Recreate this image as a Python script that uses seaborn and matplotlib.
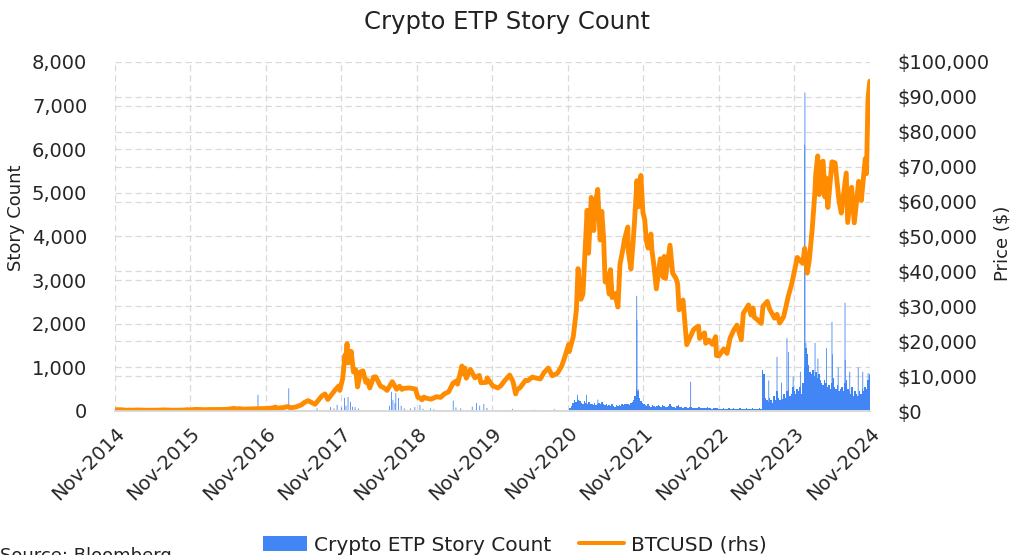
import pandas as pd
import numpy as np
import seaborn as sns
import matplotlib
matplotlib.use("Agg")
import matplotlib.pyplot as plt
import matplotlib.dates as mdates
from matplotlib.patches import Patch
from matplotlib.lines import Line2D
from matplotlib.ticker import FuncFormatter

BLUE = "#4285f4"
ORANGE = "#ff8c00"
GRID = "#d9d9d9"

# BTCUSD turning points per year, (month-day, price)
btc_2014 = [("11-20", 360), ("11-30", 378), ("12-15", 345), ("12-31", 320)]
btc_2015 = [("01-14", 178), ("01-25", 255), ("02-08", 222), ("02-20", 245), ("03-10", 290),
            ("03-31", 245), ("04-14", 220), ("05-15", 237), ("06-15", 235), ("07-12", 310),
            ("07-31", 285), ("08-24", 210), ("09-15", 230), ("10-04", 238), ("10-31", 315),
            ("11-04", 410), ("11-11", 310), ("11-30", 375), ("12-15", 460), ("12-31", 430)]
btc_2016 = [("01-15", 375), ("01-31", 370), ("02-15", 405), ("02-25", 425), ("03-10", 415),
            ("04-15", 430), ("05-15", 455), ("06-17", 760), ("06-22", 590), ("07-15", 665),
            ("08-02", 530), ("08-31", 575), ("09-30", 610), ("10-31", 700), ("11-15", 710),
            ("12-01", 750), ("12-31", 965)]
btc_2017 = [("01-04", 1130), ("01-11", 780), ("02-15", 1010), ("03-03", 1270), ("03-24", 940),
            ("04-15", 1180), ("05-10", 1750), ("05-25", 2450), ("06-11", 2960), ("07-15", 1930),
            ("08-17", 4300), ("09-01", 4890), ("09-15", 3300), ("10-12", 5400), ("10-20", 6000),
            ("11-07", 7200), ("11-12", 5900), ("11-26", 9300), ("12-07", 16000), ("12-10", 14000),
            ("12-17", 19300), ("12-22", 13800), ("12-31", 14100)]
btc_2018 = [("01-06", 17100), ("01-17", 11200), ("01-28", 11800), ("02-06", 6900), ("02-20", 11200),
            ("03-04", 11500), ("03-18", 8200), ("03-25", 8900), ("04-06", 6600), ("04-24", 9700),
            ("05-05", 9800), ("05-28", 7100), ("06-10", 6800), ("06-29", 5900), ("07-24", 8400),
            ("08-14", 6200), ("08-28", 7100), ("09-08", 6200), ("09-20", 6500), ("10-15", 6600),
            ("11-13", 6300), ("11-25", 3900), ("12-03", 3800), ("12-15", 3200), ("12-24", 4000),
            ("12-31", 3750)]
btc_2019 = [("01-10", 3600), ("01-28", 3400), ("02-24", 4100), ("03-15", 3900), ("04-02", 4900),
            ("04-23", 5500), ("05-14", 8000), ("05-30", 8600), ("06-05", 7700), ("06-26", 12900),
            ("07-02", 10600), ("07-10", 12300), ("07-17", 9400), ("08-06", 11900), ("08-28", 9500),
            ("09-18", 10200), ("09-26", 8100), ("10-22", 8200), ("10-26", 9500), ("11-22", 7200),
            ("12-17", 6600), ("12-31", 7200)]
btc_2020 = [("01-19", 8700), ("02-12", 10300), ("02-28", 8500), ("03-12", 4900), ("03-20", 6200),
            ("04-01", 6600), ("04-29", 8800), ("05-10", 8700), ("05-31", 9700), ("06-22", 9400),
            ("07-10", 9200), ("07-27", 11000), ("08-17", 12300), ("09-05", 10100), ("09-30", 10800),
            ("10-21", 12900), ("11-05", 15500), ("11-24", 19100), ("11-26", 17000), ("12-16", 21300),
            ("12-31", 29000)]
btc_2021 = [("01-08", 40800), ("01-22", 32000), ("02-01", 33500), ("02-10", 44800), ("02-21", 57500),
            ("02-28", 45200), ("03-13", 61200), ("03-25", 51700), ("04-01", 58800), ("04-13", 63500),
            ("04-25", 49000), ("05-03", 57200), ("05-12", 49200), ("05-19", 37000), ("05-22", 37500),
            ("05-26", 39300), ("06-08", 33500), ("06-14", 40500), ("06-22", 32500), ("07-05", 33700),
            ("07-20", 29800), ("07-30", 42000), ("08-15", 47000), ("08-21", 49300), ("09-06", 52700),
            ("09-08", 46000), ("09-21", 40700), ("10-01", 48000), ("10-08", 53900), ("10-20", 66000),
            ("10-27", 58500), ("11-08", 67500), ("11-18", 56900), ("11-27", 54700), ("12-04", 49000),
            ("12-13", 46700), ("12-27", 50700), ("12-31", 46300)]
btc_2022 = [("01-10", 41800), ("01-22", 35000), ("02-10", 43600), ("02-24", 38300), ("03-01", 44300),
            ("03-07", 38000), ("03-29", 47500), ("04-11", 39500), ("04-26", 38100), ("05-05", 36500),
            ("05-12", 29000), ("05-31", 31800), ("06-13", 22400), ("06-18", 19000), ("07-08", 21600),
            ("07-20", 23200), ("07-30", 23800), ("08-14", 24300), ("08-19", 20800), ("09-12", 22400),
            ("09-18", 19400), ("10-04", 20300), ("10-20", 19100), ("11-05", 21300), ("11-09", 15900),
            ("11-21", 15800), ("12-14", 17800), ("12-30", 16500)]
btc_2023 = [("01-14", 20900), ("01-31", 23100), ("02-16", 24600), ("03-09", 20400), ("03-19", 28000),
            ("04-13", 30400), ("04-25", 27500), ("05-05", 29500), ("05-11", 26900), ("06-14", 25100),
            ("06-22", 30000), ("07-13", 31400), ("07-24", 29200), ("08-17", 26600), ("08-29", 27700),
            ("09-11", 25200), ("09-30", 27000), ("10-23", 33000), ("11-09", 36600), ("12-05", 44000),
            ("12-08", 43800), ("12-31", 42300)]
btc_2024 = [("01-10", 46600), ("01-22", 39500), ("02-01", 43100), ("02-15", 51900), ("02-28", 62500),
            ("03-04", 68300), ("03-13", 73100), ("03-20", 62000), ("03-27", 70700), ("04-08", 71600),
            ("04-17", 61300), ("04-22", 66800), ("05-01", 58300), ("05-21", 71400), ("06-05", 71100),
            ("06-24", 60300), ("07-05", 56700), ("07-29", 68200), ("08-05", 54000), ("08-24", 64100),
            ("09-06", 53900), ("09-27", 65800), ("10-10", 60300), ("10-29", 72300), ("11-04", 68000),
            ("11-11", 88700), ("11-13", 90500), ("11-20", 94500)]

btc_years = {2014: btc_2014, 2015: btc_2015, 2016: btc_2016, 2017: btc_2017, 2018: btc_2018,
             2019: btc_2019, 2020: btc_2020, 2021: btc_2021, 2022: btc_2022, 2023: btc_2023,
             2024: btc_2024}

# daily story counts: sparse days before Nov 2020, weekly levels afterwards, plus single-day spikes
story_weekly_2020 = [30, 60, 120, 180,
                     250, 200, 300, 260, 220, 180,
                     150, 220, 180, 160, 200, 150, 170, 130, 180, 140, 160,
                     190, 150, 210, 160, 130, 150, 120, 140, 110, 150,
                     120, 100, 140, 110, 130, 120, 160, 130, 150, 170,
                     160, 140, 180, 200, 260, 350, 500,
                     450, 300, 220, 180, 160,
                     140, 120, 150, 110, 100, 130, 120, 90, 110, 140, 120, 100, 130, 110, 90, 100,
                     120, 150, 110, 100, 90, 80, 110, 130, 100, 90, 80, 100, 90, 70, 80, 100,
                     90, 70, 80, 60, 70, 90, 80, 60, 70, 80, 60, 90, 70, 60, 50, 60, 70, 80, 60, 50,
                     50, 40, 60, 50, 40, 50, 60, 40, 50, 60, 50, 40, 50, 60, 70, 50, 40, 50, 60,
                     50, 40, 50, 60, 40, 50, 40, 50, 60, 50]
story_weekly_2023 = [950, 850, 300, 250, 200, 300, 250, 180, 350, 250, 450, 300, 250, 350, 280,
                     400, 300, 450, 500, 350, 400, 550, 450, 400, 500, 450, 550, 400, 650,
                     1000, 1450, 1300, 1050, 900, 850, 950, 800, 900, 750, 850, 700, 650,
                     600, 700, 650, 550, 600, 500, 650, 750, 550, 500, 600, 450, 500, 550,
                     450, 650, 700, 500, 450, 400, 550, 350, 450, 400, 350, 450, 400, 500,
                     450, 550, 500, 700, 800]
story_spikes = [("2016-10-12", 370), ("2017-03-10", 520), ("2017-03-20", 80), ("2017-07-25", 60),
                ("2017-09-28", 90), ("2017-10-15", 60), ("2017-10-30", 140), ("2017-11-20", 80),
                ("2017-12-05", 300), ("2017-12-12", 120), ("2017-12-22", 320), ("2018-01-03", 210),
                ("2018-01-12", 100), ("2018-01-25", 90), ("2018-02-10", 60), ("2018-07-10", 120),
                ("2018-07-20", 440), ("2018-07-27", 250), ("2018-08-06", 180), ("2018-08-10", 410),
                ("2018-08-23", 300), ("2018-09-05", 120), ("2018-09-20", 60), ("2018-10-20", 60),
                ("2018-11-10", 90), ("2018-12-05", 140), ("2018-12-20", 50), ("2019-01-25", 60),
                ("2019-02-10", 40), ("2019-05-15", 240), ("2019-05-28", 80), ("2019-06-20", 60),
                ("2019-08-15", 100), ("2019-09-05", 180), ("2019-09-20", 120), ("2019-10-10", 160),
                ("2019-10-25", 70), ("2020-02-25", 50), ("2020-06-10", 30), ("2020-09-15", 40),
                ("2021-01-05", 370), ("2021-01-12", 250), ("2021-02-18", 370), ("2021-04-14", 260),
                ("2021-10-19", 2640), ("2021-10-20", 2090), ("2021-10-26", 500), ("2022-07-07", 670),
                ("2023-07-20", 700), ("2023-08-29", 1240), ("2023-09-20", 650), ("2023-10-16", 1670),
                ("2023-10-23", 1350), ("2023-11-15", 800), ("2023-12-20", 900), ("2024-01-10", 6100),
                ("2024-01-11", 7300), ("2024-01-16", 1560), ("2024-01-24", 1100), ("2024-02-29", 1560),
                ("2024-03-14", 1200), ("2024-04-24", 1440), ("2024-05-21", 2040), ("2024-05-24", 1300),
                ("2024-06-20", 1000), ("2024-07-23", 2480), ("2024-07-24", 1170), ("2024-08-15", 900),
                ("2024-09-25", 1000), ("2024-10-17", 900), ("2024-11-12", 870), ("2024-11-19", 850)]

tick_years = list(range(2014, 2025))
left_ticks = list(range(0, 8001, 1000))
right_ticks = list(range(0, 100001, 10000))

# assemble
btc = pd.DataFrame([(pd.Timestamp(f"{y}-{md}"), p) for y, pts in btc_years.items() for md, p in pts],
                   columns=["date", "price"])
btc["num"] = mdates.date2num(btc["date"])

w1 = pd.date_range("2020-11-20", periods=len(story_weekly_2020), freq="7D")
w2 = pd.date_range("2023-06-16", periods=len(story_weekly_2023), freq="7D")
weekly_x = np.concatenate([mdates.date2num(w1), mdates.date2num(w2)])
weekly_y = story_weekly_2020 + story_weekly_2023
spike_x = mdates.date2num(pd.to_datetime([d for d, _ in story_spikes]))
spike_y = [v for _, v in story_spikes]

sns.set_style("white")
plt.rcParams["font.family"] = ["DejaVu Sans"]
plt.rcParams["text.color"] = "#222222"

fig = plt.figure(figsize=(10.15, 5.55), dpi=100)
ax = fig.add_axes([115 / 1015, 1 - 411 / 555, 755 / 1015, 349 / 555])
ax2 = ax.twinx()

ax.bar(weekly_x, weekly_y, width=7, color=BLUE, linewidth=0, align="edge")
ax.bar(spike_x, spike_y, width=4, color=BLUE, linewidth=0, snap=False)
sns.lineplot(x=btc["num"], y=btc["price"], ax=ax2, color=ORANGE, linewidth=3.5,
             legend=False, estimator=None)

x0 = mdates.date2num(pd.Timestamp("2014-11-20"))
x1 = mdates.date2num(pd.Timestamp("2024-11-21"))
ax.set_xlim(x0, x1)
ax.set_xticks(mdates.date2num([pd.Timestamp(f"{y}-11-20") for y in tick_years]))
ax.xaxis.set_major_formatter(mdates.DateFormatter("%b-%Y"))
for lab in ax.get_xticklabels():
    lab.set_rotation(45)
    lab.set_ha("right")
    lab.set_va("top")
    lab.set_rotation_mode("anchor")
ax.tick_params(axis="x", labelsize=14, length=5, color=GRID, pad=4)

ax.set_ylim(0, 8000)
ax.set_yticks(left_ticks)
ax.set_yticks(np.arange(0, 8001, 800), minor=True)
ax.yaxis.set_major_formatter(FuncFormatter(lambda v, p: f"{v:,.0f}"))
ax.tick_params(axis="y", which="both", length=0, labelsize=14, pad=20)

ax2.set_ylim(0, 100000)
ax2.set_yticks(right_ticks)
ax2.yaxis.set_major_formatter(FuncFormatter(lambda v, p: f"${v:,.0f}"))
ax2.tick_params(axis="y", length=0, labelsize=14, pad=20)
ax2.set_xlabel("")
ax2.set_ylabel("")
ax2.grid(False)

ax.set_axisbelow(True)
ax.grid(True, which="both", axis="y", color=GRID, linestyle=(0, (5, 3)), linewidth=0.9)
ax.grid(True, which="major", axis="x", color=GRID, linestyle=(0, (5, 3)), linewidth=0.9)

for a in (ax, ax2):
    for s in ("top", "left", "right"):
        a.spines[s].set_visible(False)
    a.spines["bottom"].set_color(GRID)
    a.spines["bottom"].set_linewidth(1.2)

fig.text(0.5, 0.96, "Crypto ETP Story Count", ha="center", va="center", fontsize=17.5)
fig.text(0.016, 0.607, "Story Count", rotation=90, ha="center", va="center", fontsize=13)
fig.text(0.988, 0.562, "Price ($)", rotation=90, ha="center", va="center", fontsize=13)
fig.text(0.0, 0.014, "Source: Bloomberg", ha="left", va="top", fontsize=13)

handles = [Patch(color=BLUE, linewidth=0), Line2D([], [], color=ORANGE, linewidth=2.9)]
fig.legend(handles, ["Crypto ETP Story Count", "BTCUSD (rhs)"], loc="center",
           bbox_to_anchor=(0.507, 0.018), ncol=2, frameon=False, fontsize=14.5,
           handlelength=2.2, columnspacing=1.4, handletextpad=0.35)

fig.savefig("out.png", dpi=100)
